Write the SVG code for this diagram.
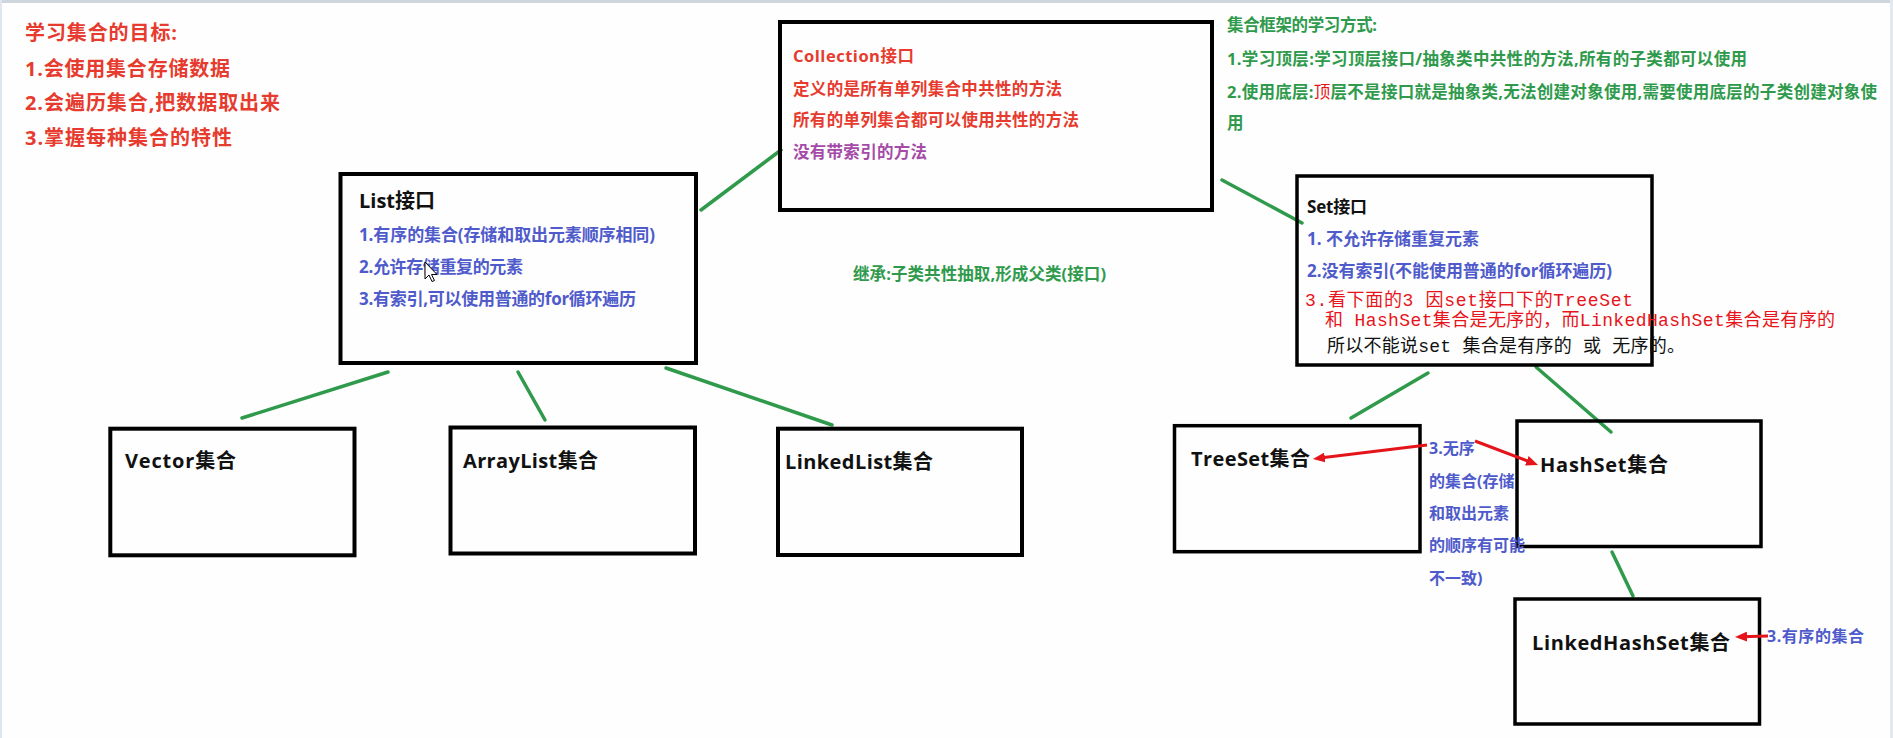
<svg xmlns="http://www.w3.org/2000/svg" width="1893" height="738" viewBox="0 0 1893 738">
  <defs>
    <style>
      .box{fill:none;stroke:#000;stroke-width:4}
      .box.thin{stroke-width:3.5}
      .link{stroke:#2f9a4c;stroke-width:3.5;stroke-linecap:round;fill:none}
      .arrow{stroke:#e5141b;stroke-width:3;fill:none;marker-end:url(#ah)}
      text{font-family:"Open Sans","Noto Sans CJK SC",sans-serif;font-weight:bold}
      .goal{fill:#e63b2e;font-size:20px}
      .coll{fill:#e63b2e;font-size:16.5px}
      .purple{fill:#a54aa8;font-size:16.5px}
      .green{fill:#2f9a4c;font-size:16.5px}
      .title{fill:#111;font-size:20px}
      .small-title{fill:#111;font-size:17px}
      .blue{fill:#4f5acb;font-size:17px}
      .note{fill:#4f5acb;font-size:16px}
      .mono{font-family:"Liberation Mono","Noto Sans CJK SC",monospace;font-weight:normal;font-size:18px}
    </style>
    <marker id="ah" markerWidth="12" markerHeight="10" refX="5" refY="5" orient="auto" markerUnits="userSpaceOnUse">
      <path d="M0,0 L12,5 L0,10 z" fill="#e5141b"/>
    </marker>
  </defs>

  <!-- page -->
  <rect x="0" y="0" width="1893" height="738" fill="#fdfefd"/>
  <rect x="0" y="0" width="1893" height="3" fill="#cdd5dd"/>
  <rect x="0" y="0" width="2" height="738" fill="#dfe6ee"/>
  <rect x="1890" y="0" width="3" height="738" fill="#e3e8ee"/>

  <!-- learning goals -->
  <g id="goals">
    <text class="goal" x="25" y="40" textLength="152" lengthAdjust="spacing">学习集合的目标:</text>
    <text class="goal" x="25" y="76" textLength="205" lengthAdjust="spacing">1.会使用集合存储数据</text>
    <text class="goal" x="25" y="110" textLength="255" lengthAdjust="spacing">2.会遍历集合,把数据取出来</text>
    <text class="goal" x="25" y="145" textLength="207" lengthAdjust="spacing">3.掌握每种集合的特性</text>
  </g>

  <!-- how to study the framework -->
  <g id="method">
    <text class="green" x="1227" y="31" textLength="150" lengthAdjust="spacing">集合框架的学习方式:</text>
    <text class="green" x="1227" y="65" textLength="520" lengthAdjust="spacing">1.学习顶层:学习顶层接口/抽象类中共性的方法,所有的子类都可以使用</text>
    <text class="green" x="1227" y="98" textLength="650" lengthAdjust="spacing">2.使用底层:<tspan fill="#e5141b" font-weight="normal">顶</tspan>层不是接口就是抽象类,无法创建对象使用,需要使用底层的子类创建对象使</text>
    <text class="green" x="1227" y="129">用</text>
  </g>

  <g id="inherit-note">
    <text class="green" x="853" y="280" textLength="253" lengthAdjust="spacing">继承:子类共性抽取,形成父类(接口)</text>
  </g>

  <!-- connectors -->
  <g id="connectors">
    <line class="link" x1="781" y1="150" x2="701" y2="210"/>
    <line class="link" x1="1222" y1="180" x2="1302" y2="223"/>
    <line class="link" x1="388" y1="372" x2="242" y2="418"/>
    <line class="link" x1="518" y1="372" x2="545" y2="420"/>
    <line class="link" x1="666" y1="368" x2="832" y2="425"/>
    <line class="link" x1="1428" y1="373" x2="1351" y2="418"/>
    <line class="link" x1="1536" y1="367" x2="1611" y2="432"/>
    <line class="link" x1="1612" y1="552" x2="1633" y2="596"/>
  </g>

  <!-- Collection -->
  <g id="collection">
    <rect class="box" x="780" y="22" width="432" height="188"/>
    <text class="coll" x="793" y="62" textLength="121" lengthAdjust="spacing">Collection接口</text>
    <text class="coll" x="793" y="95" textLength="269" lengthAdjust="spacing">定义的是所有单列集合中共性的方法</text>
    <text class="coll" x="793" y="126" textLength="286" lengthAdjust="spacing">所有的单列集合都可以使用共性的方法</text>
    <text class="purple" x="793" y="158" textLength="134" lengthAdjust="spacing">没有带索引的方法</text>
  </g>

  <!-- List -->
  <g id="list">
    <rect class="box" x="340.5" y="174" width="355.5" height="189"/>
    <text class="title" x="359" y="208" textLength="76" lengthAdjust="spacing">List接口</text>
    <text class="blue" x="359" y="241" textLength="296" lengthAdjust="spacing">1.有序的集合(存储和取出元素顺序相同)</text>
    <text class="blue" x="359" y="273" textLength="164" lengthAdjust="spacing">2.允许存储重复的元素</text>
    <text class="blue" x="359" y="305" textLength="277" lengthAdjust="spacing">3.有索引,可以使用普通的for循环遍历</text>
    <path d="M425,262 L425,279 L429,275 L432,281.5 L434.5,280.5 L431.5,274.5 L437,274.5 Z" fill="#fff" stroke="#000" stroke-width="1"/>
  </g>

  <!-- Set -->
  <g id="set">
    <rect class="box thin" x="1297" y="176" width="355" height="189"/>
    <text class="small-title" x="1307" y="213" textLength="60" lengthAdjust="spacing">Set接口</text>
    <text class="blue" x="1307" y="245" textLength="172" lengthAdjust="spacing">1. 不允许存储重复元素</text>
    <text class="blue" x="1307" y="277" textLength="305" lengthAdjust="spacing">2.没有索引(不能使用普通的for循环遍历)</text>
    <text class="mono" fill="#e8141b" x="1305" y="306" textLength="328" lengthAdjust="spacing">3.看下面的3  因set接口下的TreeSet</text>
    <text class="mono" fill="#e8141b" x="1325" y="326" textLength="510" lengthAdjust="spacing">和 HashSet集合是无序的，而LinkedHashSet集合是有序的</text>
    <text class="mono" fill="#111" x="1327" y="352" textLength="358" lengthAdjust="spacing">所以不能说set 集合是有序的 或 无序的。</text>
  </g>

  <!-- List implementations -->
  <g id="vector">
    <rect class="box" x="110.3" y="428.7" width="244.2" height="126.6"/>
    <text class="title" x="125" y="468" textLength="111" lengthAdjust="spacing">Vector集合</text>
  </g>
  <g id="arraylist">
    <rect class="box" x="450.5" y="427.5" width="244.5" height="126"/>
    <text class="title" x="463" y="468" textLength="135" lengthAdjust="spacing">ArrayList集合</text>
  </g>
  <g id="linkedlist">
    <rect class="box" x="778" y="428.7" width="244" height="126.3"/>
    <text class="title" x="785" y="469" textLength="148" lengthAdjust="spacing">LinkedList集合</text>
  </g>

  <!-- Set implementations -->
  <g id="treeset">
    <rect class="box thin" x="1174.5" y="425.7" width="245.5" height="126"/>
    <text class="title" x="1191" y="466" textLength="119" lengthAdjust="spacing">TreeSet集合</text>
  </g>
  <g id="hashset">
    <rect class="box thin" x="1517" y="421" width="244" height="125.5"/>
    <text class="title" x="1540" y="472" textLength="128" lengthAdjust="spacing">HashSet集合</text>
  </g>
  <g id="linkedhashset">
    <rect class="box thin" x="1515" y="599" width="244.5" height="125"/>
    <text class="title" x="1532" y="650" textLength="198" lengthAdjust="spacing">LinkedHashSet集合</text>
  </g>

  <!-- ordering notes -->
  <g id="unordered-note">
    <text class="note" x="1429" y="454">3.无序</text>
    <text class="note" x="1429" y="487">的集合(存储</text>
    <text class="note" x="1429" y="519">和取出元素</text>
    <text class="note" x="1429" y="551">的顺序有可能</text>
    <text class="note" x="1429" y="584">不一致)</text>
  </g>
  <g id="ordered-note">
    <text class="note" x="1767" y="642" textLength="97" lengthAdjust="spacing">3.有序的集合</text>
  </g>

  <g id="note-arrows">
    <line class="arrow" x1="1427" y1="445" x2="1319.9" y2="458.1"/>
    <line class="arrow" x1="1475" y1="441" x2="1531.5" y2="462.5"/>
    <line class="arrow" x1="1768" y1="636" x2="1742" y2="636.8"/>
  </g>
</svg>
